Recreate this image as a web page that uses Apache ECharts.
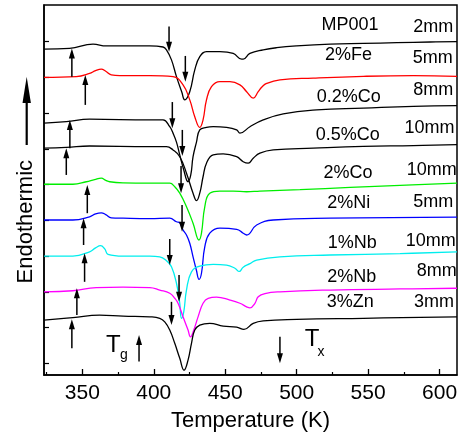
<!DOCTYPE html>
<html>
<head>
<meta charset="utf-8">
<script src="https://cdn.jsdelivr.net/npm/echarts@6/dist/echarts.min.js"></script>
<style>
html,body{margin:0;padding:0;background:#fff;}
#c{width:464px;height:438px;}
</style>
</head>
<body>
<div id="c"></div>
<script>
// ---- data (temperature K, heat flow arb. units, curves offset) ----
const mp001 = [[323.2,8.79],[341.1,8.81],[357.5,8.93],[366.8,8.88],[397.2,8.88],[406.5,8.85],[408.9,8.77],[412.4,8.49],[415.9,8.02],[419.6,7.59],[421.7,7.37],[425.2,7.60],[428.7,8.21],[432.2,8.58],[436.9,8.72],[446.3,8.72],[455.6,8.67],[461.5,8.51],[462.6,8.51],[467.3,8.67],[476.6,8.77],[486.0,8.83],[500.0,8.88],[523.4,8.93],[546.7,8.95],[570.1,8.97],[593.4,8.99],[612.2,9.00]];
const fe2 = [[323.2,8.00],[345.8,8.02],[355.1,8.11],[359.3,8.19],[363.3,8.23],[366.4,8.17],[370.3,8.07],[376.2,8.05],[397.2,8.05],[413.5,8.02],[420.5,7.79],[425.2,7.37],[428.7,6.90],[432.2,6.60],[434.5,6.81],[436.9,7.37],[440.4,7.74],[446.3,7.88],[453.3,7.88],[460.3,7.79],[465.0,7.60],[469.6,7.42],[473.1,7.60],[475.7,7.73],[479.0,7.83],[488.3,7.93],[511.6,7.98],[546.7,8.03],[581.7,8.05],[612.2,8.03]];
const co02 = [[323.2,6.72],[338.8,6.76],[355.1,6.83],[397.2,6.81],[406.5,6.81],[411.2,6.62],[413.5,6.44],[415.9,6.19],[418.2,5.83],[421.0,5.41],[424.0,5.08],[425.9,5.27],[427.5,5.78],[429.9,6.19],[432.2,6.53],[436.9,6.60],[441.6,6.62],[450.9,6.60],[458.0,6.53],[460.3,6.44],[467.3,6.62],[476.6,6.81],[490.6,6.98],[514.0,7.09],[546.7,7.14],[581.7,7.19],[612.2,7.21]];
const co05 = [[323.2,6.02],[338.8,6.04],[355.1,6.08],[397.2,6.06],[408.9,6.06],[413.5,5.97],[418.2,5.78],[422.9,5.32],[427.5,4.76],[429.9,4.55],[432.2,4.76],[434.5,5.22],[436.9,5.60],[441.6,5.83],[448.6,5.86],[458.0,5.78],[462.6,5.64],[466.1,5.60],[469.6,5.74],[474.3,5.88],[483.6,5.97],[511.6,6.02],[546.7,6.07],[581.7,6.09],[612.2,6.12]];
const co2 = [[323.2,5.01],[343.4,5.01],[352.8,5.08],[358.6,5.14],[363.3,5.18],[366.4,5.12],[369.2,5.08],[378.5,5.05],[397.2,5.04],[411.2,5.04],[414.7,4.94],[418.2,4.76],[422.9,4.38],[427.5,3.92],[431.7,3.45],[433.4,3.64],[435.7,4.38],[439.2,4.76],[446.3,4.82],[455.6,4.82],[465.0,4.80],[474.3,4.82],[502.3,4.86],[537.4,4.92],[572.4,4.98],[612.2,5.04]];
const ni2 = [[323.2,4.01],[343.4,4.01],[355.1,4.10],[359.3,4.18],[363.3,4.21],[366.4,4.16],[370.3,4.07],[378.5,4.06],[397.2,4.05],[411.2,4.06],[415.9,3.96],[418.2,3.93],[420.5,3.73],[422.9,3.59],[425.2,3.36],[427.5,2.98],[429.8,2.61],[431.7,2.35],[433.4,2.52],[435.7,3.26],[439.2,3.64],[446.3,3.78],[458.0,3.75],[462.6,3.64],[465.0,3.59],[472.0,3.87],[483.6,4.01],[523.4,4.06],[612.2,4.09]];
const nb1 = [[323.2,3.00],[343.4,3.00],[355.1,3.12],[359.3,3.23],[362.8,3.29],[365.7,3.20],[368.0,3.05],[378.5,3.00],[397.2,3.00],[404.2,2.98],[408.9,2.87],[412.4,2.70],[415.9,2.24],[418.2,1.68],[419.4,1.26],[421.0,1.44],[422.9,2.05],[426.4,2.56],[432.2,2.72],[441.6,2.77],[450.9,2.75],[456.8,2.66],[459.8,2.57],[462.6,2.69],[467.3,2.79],[472.0,2.89],[488.3,2.98],[523.4,3.03],[572.4,3.07],[612.2,3.12]];
const nb2 = [[323.2,2.00],[343.4,2.03],[359.8,2.12],[378.5,2.13],[397.2,2.12],[404.2,2.05],[411.2,1.96],[414.7,1.82],[417.0,1.68],[420.5,1.30],[424.0,0.93],[425.7,0.74],[428.0,0.93],[431.0,1.30],[434.5,1.68],[438.1,1.82],[443.9,1.85],[453.3,1.77],[460.3,1.68],[465.0,1.58],[467.3,1.55],[470.8,1.68],[473.1,1.86],[477.8,1.95],[488.3,2.00],[523.4,2.05],[572.4,2.08],[612.2,2.10]];
const zn3 = [[323.2,1.21],[343.4,1.28],[362.1,1.35],[378.5,1.32],[397.2,1.30],[404.2,1.26],[407.7,1.16],[411.2,0.93],[414.7,0.56],[418.2,0.14],[421.2,-0.19],[424.0,0.09],[426.4,0.56],[428.7,0.93],[432.2,1.07],[439.2,1.12],[448.6,1.04],[458.0,1.01],[463.1,0.95],[469.6,1.12],[476.6,1.19],[500.0,1.23],[546.7,1.26],[612.2,1.30]];

// arrows: [T, from, to]  (Tg arrows point up, Tx arrows point down)
const tgArrows = [[342.7,8.02,8.81],[352.1,7.23,8.07],[341.3,6.02,6.81],[338.8,5.27,6.02],[353.5,4.20,4.99],[350.9,3.31,4.06],[351.6,2.28,3.08],[346.2,1.35,2.10],[342.7,0.42,1.23],[389.7,0.05,0.79]];
const txArrows = [[410.7,9.42,8.72],[422.1,8.60,7.88],[413.0,7.31,6.58],[420.0,6.53,5.80],[419.1,5.52,4.76],[419.8,4.43,3.68],[411.2,3.48,2.75],[417.7,2.47,1.72],[412.4,1.72,1.07],[488.3,0.74,0.00]];

const sampleNames = ['MP001','2%Fe','0.2%Co','0.5%Co','2%Co','2%Ni','1%Nb','2%Nb','3%Zn'];
const thickness = ['2mm','5mm','8mm','10mm','10mm','5mm','10mm','8mm','3mm'];
const xMajorTicks = [350,400,450,500,550,600];
const xMinorTicks = [325,375,425,475,525,575];
const yTicks = [0,1,2,3,4,5,6,7,8,9];

// ---- layout / style ----
const curves = [mp001, fe2, co02, co05, co2, ni2, nb1, nb2, zn3];
const colors = ['#000000','#ff0000','#000000','#000000','#00ee00','#0000ff','#00eeee','#ff00ff','#000000'];
const namePos = [[350,25],[348.5,55],[348.8,97.3],[347.8,135],[348,173.3],[348.7,203.3],[352.2,243.3],[351.7,276.7],[350.3,301.7]];
const thickPos = [[433.3,27.5],[432.7,58.3],[433.3,90],[429.5,128.3],[431.7,170],[433.3,201.7],[430.7,240.8],[436.7,271.2],[434,302.2]];
const FONT = 'Liberation Sans, Arial, Helvetica, sans-serif';

const chart = echarts.init(document.getElementById('c'), null, {renderer:'canvas'});

const series = curves.map((d,i)=>({
  type:'line', data:d, xAxisIndex:0, yAxisIndex:0,
  showSymbol:false, smooth:0.45,
  lineStyle:{color:colors[i], width:1.3}, itemStyle:{color:colors[i]},
  silent:true, animation:false, z:2
}));

function arrowItem(params, api){
  const p0 = api.coord([api.value(0), api.value(1)]);
  const p1 = api.coord([api.value(0), api.value(2)]);
  const dir = p1[1] > p0[1] ? 1 : -1;
  const headLen = 10, headW = 3;
  const base = p1[1] - dir*headLen;
  return {type:'group', children:[
    {type:'line', shape:{x1:p0[0],y1:p0[1],x2:p1[0],y2:base+dir*1}, style:{stroke:'#000', lineWidth:1.5}},
    {type:'polygon', shape:{points:[[p1[0],p1[1]],[p1[0]-headW,base],[p1[0]+headW,base]]}, style:{fill:'#000'}}
  ]};
}
series.push({type:'custom', data:tgArrows.concat(txArrows), renderItem:arrowItem,
  encode:{x:0, y:[1,2]}, silent:true, animation:false, z:5, clip:false});

const graphic = [];
sampleNames.forEach((t,i)=>graphic.push({type:'text', x:namePos[i][0], y:namePos[i][1], z:10,
  style:{text:t, fontSize:18, fontFamily:FONT, fill:'#000', align:'center', verticalAlign:'middle'}}));
thickness.forEach((t,i)=>graphic.push({type:'text', x:thickPos[i][0], y:thickPos[i][1], z:10,
  style:{text:t, fontSize:18, fontFamily:FONT, fill:'#000', align:'center', verticalAlign:'middle'}}));
graphic.push({type:'text', x:25.8, y:221.7, rotation:Math.PI/2,
  style:{text:'Endothermic', fontSize:22, fontFamily:FONT, fill:'#000', align:'center', verticalAlign:'middle'}});
graphic.push({type:'line', shape:{x1:26.7,y1:145,x2:26.7,y2:100}, style:{stroke:'#000', lineWidth:2.2}});
graphic.push({type:'polygon', shape:{points:[[26.7,76.7],[22.5,103],[30.9,103]]}, style:{fill:'#000'}});
graphic.push({type:'text', x:113.3, y:345.2, style:{text:'T', fontSize:24, fontFamily:FONT, fill:'#000', align:'center', verticalAlign:'middle'}});
graphic.push({type:'text', x:124, y:355, style:{text:'g', fontSize:14, fontFamily:FONT, fill:'#000', align:'center', verticalAlign:'middle'}});
graphic.push({type:'text', x:312, y:339, style:{text:'T', fontSize:24, fontFamily:FONT, fill:'#000', align:'center', verticalAlign:'middle'}});
graphic.push({type:'text', x:321, y:351.8, style:{text:'x', fontSize:14, fontFamily:FONT, fill:'#000', align:'center', verticalAlign:'middle'}});

chart.setOption({
  animation:false,
  backgroundColor:'#fff',
  grid:{left:44, right:7, top:5, bottom:63, show:true, borderColor:'#000', borderWidth:1.5, backgroundColor:'transparent'},
  xAxis:[{
    type:'value', min:323.2, max:612.2, position:'bottom',
    name:'Temperature (K)', nameLocation:'middle', nameGap:35,
    nameTextStyle:{fontSize:22, fontFamily:FONT, color:'#000'},
    axisLine:{show:true, onZero:false, lineStyle:{color:'#000', width:1.5}},
    axisTick:{show:true, inside:true, length:6, lineStyle:{color:'#000', width:1.3}, customValues:xMajorTicks},
    axisLabel:{show:true, margin:8, fontSize:21, fontFamily:FONT, color:'#000', customValues:xMajorTicks},
    splitLine:{show:false}
  },{
    type:'value', min:323.2, max:612.2, position:'bottom', offset:0,
    axisLine:{show:false, onZero:false},
    axisTick:{show:true, inside:true, length:3, lineStyle:{color:'#000', width:1.2}, customValues:xMinorTicks},
    axisLabel:{show:false}, splitLine:{show:false}
  }],
  yAxis:{
    type:'value', min:-0.327, max:10.025,
    axisLine:{show:true, onZero:false, lineStyle:{color:'#000', width:1.5}},
    axisTick:{show:true, inside:true, length:5, lineStyle:{color:'#000', width:1.2}, customValues:yTicks},
    axisLabel:{show:false}, splitLine:{show:false}
  },
  series:series,
  graphic:graphic
});
</script>
</body>
</html>
